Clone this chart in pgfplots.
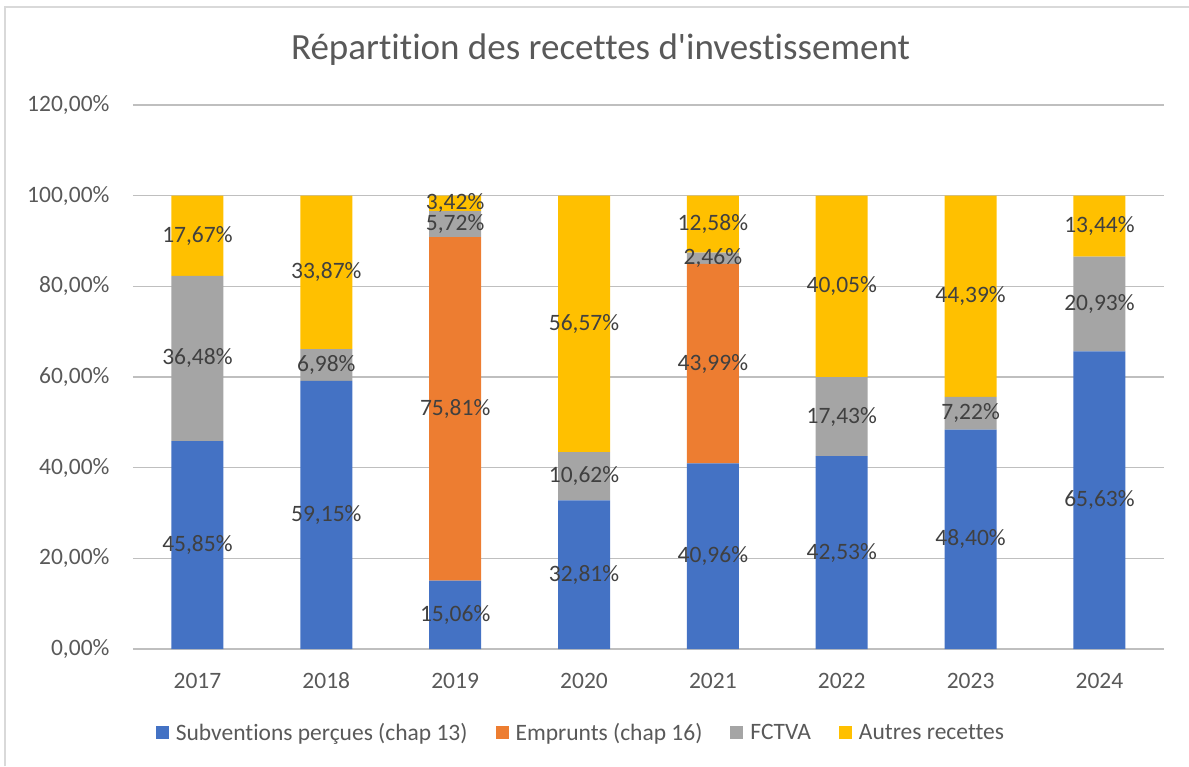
\documentclass[border=0pt]{standalone}
\usepackage{fontspec}
\setmainfont{Carlito}[Ligatures={NoCommon}]
\usepackage{pgfplots}
\pgfplotsset{compat=1.18}
\definecolor{cBlue}{HTML}{4472C4}
\definecolor{cOrange}{HTML}{ED7D31}
\definecolor{cGray}{HTML}{A5A5A5}
\definecolor{cGold}{HTML}{FFC000}
\definecolor{txt}{HTML}{595959}
\definecolor{lab}{HTML}{404040}
\definecolor{grid}{HTML}{D9D9D9}
\pgfplotsset{
  common/.style={
    at={(133pt,117pt)}, anchor=south west,
    scale only axis, width=1031pt, height=544pt,
    xmin=-0.5, xmax=7.5, ymin=0, ymax=120,
  },
  lbl/.style={draw=none, mark=none, nodes near coords={\pgfplotspointmeta},
    point meta=explicit symbolic,
    every node near coord/.style={anchor=center, inner sep=0pt, text=lab, font=\fontsize{23.5}{28}\selectfont}},
}
\begin{document}
\begin{tikzpicture}[x=1pt,y=1pt]
\useasboundingbox (0,0) rectangle (1189,766);
\draw[grid,line width=1.5pt] (5,0) -- (5,759) -- (1189,759);
\node[text=txt,font=\fontsize{37}{44}\selectfont,anchor=center] at (600.5,716) {Répartition des recettes d\XeTeXglyph\XeTeXcharglyph"0027 investissement};
\begin{axis}[
  common,
  ybar stacked, bar width=52pt,
  xtick={0,...,7}, xticklabels={2017,2018,2019,2020,2021,2022,2023,2024},
  ytick={0,20,...,120},
  yticklabel={\pgfmathprintnumber[fixed,fixed zerofill,precision=2,use comma]{\tick}\%},
  /pgf/number format/assume math mode=true,
  tick label style={font=\fontsize{23.5}{28}\selectfont, text=txt},
  yticklabel style={xshift=-20pt},
  xticklabel style={anchor=base, yshift=-39pt},
  major tick length=0pt,
  axis line style={draw=none},
  xmajorgrids=false,
  ymajorgrids, grid style={grid, line width=1.6pt},
  legend style={at={(0.4345,-0.154)}, anchor=center, draw=none, legend columns=-1,
    font=\fontsize{23.5}{28}\selectfont, text=txt,
    /tikz/every odd column/.append style={column sep=5pt},
    /tikz/every even column/.append style={column sep=26pt}},
  legend image code/.code={\fill[#1] (0pt,-6.5pt) rectangle (13pt,6.5pt);},
]
\addplot[fill=cBlue, draw=none] coordinates {
 (0,45.85) (1,59.15) (2,15.06) (3,32.81) (4,40.96) (5,42.53) (6,48.40) (7,65.63)};
\addplot[fill=cOrange, draw=none] coordinates {
 (0,0) (1,0) (2,75.81) (3,0) (4,43.99) (5,0) (6,0) (7,0)};
\addplot[fill=cGray, draw=none] coordinates {
 (0,36.48) (1,6.98) (2,5.72) (3,10.62) (4,2.46) (5,17.43) (6,7.22) (7,20.93)};
\addplot[fill=cGold, draw=none] coordinates {
 (0,17.67) (1,33.87) (2,3.42) (3,56.57) (4,12.58) (5,40.05) (6,44.39) (7,13.44)};
\legend{Subventions perçues (chap 13),Emprunts (chap 16),FCTVA,Autres recettes}
\end{axis}
% data labels, at the middle of each segment
\begin{axis}[common, hide axis, clip=false]
\addplot[lbl] coordinates {
 (0,22.925) [45,85\%] (1,29.575) [59,15\%] (2,7.53) [15,06\%] (3,16.405) [32,81\%]
 (4,20.48) [40,96\%] (5,21.265) [42,53\%] (6,24.2) [48,40\%] (7,32.815) [65,63\%]};
\addplot[lbl] coordinates {
 (2,52.965) [75,81\%] (4,62.955) [43,99\%]};
\addplot[lbl] coordinates {
 (0,64.09) [36,48\%] (1,62.64) [6,98\%] (2,93.73) [5,72\%] (3,38.12) [10,62\%]
 (4,86.18) [2,46\%] (5,51.245) [17,43\%] (6,52.01) [7,22\%] (7,76.095) [20,93\%]};
\addplot[lbl] coordinates {
 (0,91.165) [17,67\%] (1,83.065) [33,87\%] (2,98.30) [3,42\%] (3,71.715) [56,57\%]
 (4,93.70) [12,58\%] (5,79.985) [40,05\%] (6,77.815) [44,39\%] (7,93.28) [13,44\%]};
\end{axis}
\end{tikzpicture}
\end{document}
